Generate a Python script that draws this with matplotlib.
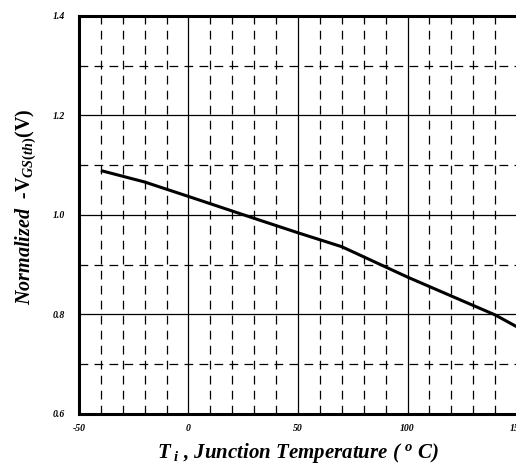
import numpy as np
import matplotlib
matplotlib.use('Agg')
from matplotlib import pyplot as plt

# junction temperature (C) vs normalized VGS(th)
temp = [-40, -20, 0, 30, 50, 70, 100, 140, 150]
vgs_norm = [1.089, 1.066, 1.037, 0.993, 0.964, 0.936, 0.875, 0.799, 0.775]

x_ticks = [-50, 0, 50, 100, 150]
y_ticks = [0.6, 0.8, 1.0, 1.2, 1.4]

plt.rcParams['font.family'] = ['Liberation Serif', 'DejaVu Serif']
plt.rcParams['mathtext.fontset'] = 'custom'
plt.rcParams['mathtext.rm'] = 'Liberation Serif:bold'
plt.rcParams['mathtext.it'] = 'Liberation Serif:bold:italic'
plt.rcParams['mathtext.bf'] = 'Liberation Serif:bold'

fig = plt.figure(figsize=(5.16, 4.68), dpi=100)
ax = fig.add_axes([0.153, 0.1154, 0.849, 0.851])

ax.plot(temp, vgs_norm, color='black', lw=2.2, solid_capstyle='butt', zorder=3)

ax.set_xlim(-50, 150)
ax.set_ylim(0.6, 1.4)
ax.set_xticks(x_ticks)
ax.set_yticks(y_ticks)
ax.set_xticks(np.arange(-40, 150, 10), minor=True)
ax.set_yticks([0.7, 0.9, 1.1, 1.3], minor=True)
ax.set_xticklabels([str(t) for t in x_ticks])
ax.set_yticklabels(['%.1f' % t for t in y_ticks])

ax.grid(which='major', color='black', lw=0.9, ls='-')
ax.grid(which='minor', color='black', lw=0.9, ls=(0, (7, 5)))
ax.set_axisbelow(True)

for lab in ax.get_xticklabels() + ax.get_yticklabels():
    lab.set_fontsize(7)
    lab.set_fontweight('bold')
    lab.set_fontstyle('italic')
ax.tick_params(which='both', length=0)
ax.tick_params(axis='x', pad=7)
ax.tick_params(axis='y', pad=10)

for s in ['left', 'bottom', 'top', 'right']:
    ax.spines[s].set_linewidth(2.2)

ax.set_xlabel(r'$T_{\ i}$ , Junction Temperature ( $^{o}$ C)', fontsize=15,
              fontweight='bold', fontstyle='italic', labelpad=6)
ax.set_ylabel(r'Normalized  -$\mathrm{V}_{GS(th)}\mathrm{(V)}$', fontsize=14.5,
              fontweight='bold', fontstyle='italic', labelpad=11)
ax.yaxis.label.set_y(0.52)

fig.savefig('out.png', dpi=100)
